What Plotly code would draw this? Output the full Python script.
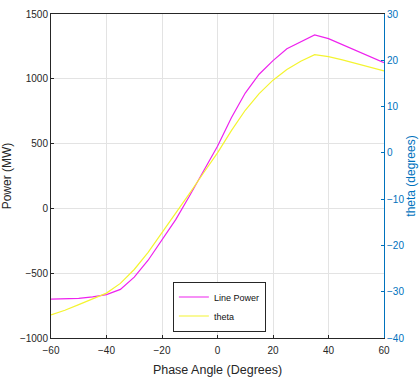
import plotly.graph_objects as go

phase_angle = [-60, -55, -50, -45, -40, -35, -30, -25, -20, -15, -10, -5, 0,
               5, 10, 15, 20, 25, 30, 35, 40, 45, 50, 55, 60]
line_power = [-700, -700, -695, -682, -665, -625, -530, -400, -242, -85, 100, 290, 480,
              700, 890, 1035, 1140, 1232, 1288, 1338, 1310, 1265, 1215, 1170, 1125]
theta = [-35.0, -34.0, -32.8, -31.6, -30.3, -28.2, -25.2, -21.5, -17.3, -13.0, -8.7, -4.3, 0.0,
         4.8, 9.2, 12.8, 15.7, 18.0, 19.8, 21.2, 20.8, 20.1, 19.3, 18.5, 17.7]

x_ticks = [-60, -40, -20, 0, 20, 40, 60]
left_ticks = [-1000, -500, 0, 500, 1000, 1500]
right_ticks = [-40, -30, -20, -10, 0, 10, 20, 30]

dark = "#262626"
blue = "#0072BD"
font = "Liberation Sans, Arial, sans-serif"

fig = go.Figure()
fig.add_trace(go.Scatter(x=phase_angle, y=line_power, mode="lines", name="Line Power",
                         line=dict(color="#ee22ee", width=1.2)))
fig.add_trace(go.Scatter(x=phase_angle, y=theta, mode="lines", name="theta", yaxis="y2",
                         line=dict(color="#f4f430", width=1.2)))

fig.update_layout(
    width=419, height=381,
    margin=dict(l=51, r=35, t=14, b=43),
    paper_bgcolor="white", plot_bgcolor="white",
    font=dict(family=font, size=10, color=dark),
    showlegend=True,
    legend=dict(x=0.366, y=0.02, xanchor="left", yanchor="bottom",
                bgcolor="white", bordercolor=dark, borderwidth=1,
                font=dict(size=9, color="#111111"), itemwidth=30,
                tracegroupgap=0),
    xaxis=dict(range=[-60, 60], tickvals=x_ticks, ticks="inside", ticklen=3,
               tickcolor=dark, showline=True, linecolor=dark, linewidth=1, mirror=True,
               showgrid=True, gridcolor="#e3e3e3", zeroline=False, automargin=False,
               tickfont=dict(size=10, color=dark), ticklabelstandoff=3,
               title=dict(text="Phase Angle (Degrees)", font=dict(size=12.5, color=dark), standoff=10)),
    yaxis=dict(range=[-1000, 1500], tickvals=left_ticks, ticks="inside", ticklen=3,
               tickcolor=dark, showline=True, linecolor=dark, linewidth=1,
               showgrid=True, gridcolor="#e3e3e3", zeroline=False, automargin=False,
               tickfont=dict(size=10, color=dark),
               title=dict(text="Power (MW)", font=dict(size=12, color=dark), standoff=5)),
    yaxis2=dict(range=[-40, 30], tickvals=right_ticks, overlaying="y", side="right",
                ticks="inside", ticklen=3, tickcolor=blue, showline=True, linecolor=blue,
                linewidth=1, showgrid=False, zeroline=False, automargin=False,
                tickfont=dict(size=10, color=blue),
                title=dict(text="theta (degrees)", font=dict(size=12, color=blue), standoff=0)),
)

fig.write_html("out.html", config={"displayModeBar": False},
               post_script="document.body.style.margin='0';document.body.style.overflow='hidden';")
